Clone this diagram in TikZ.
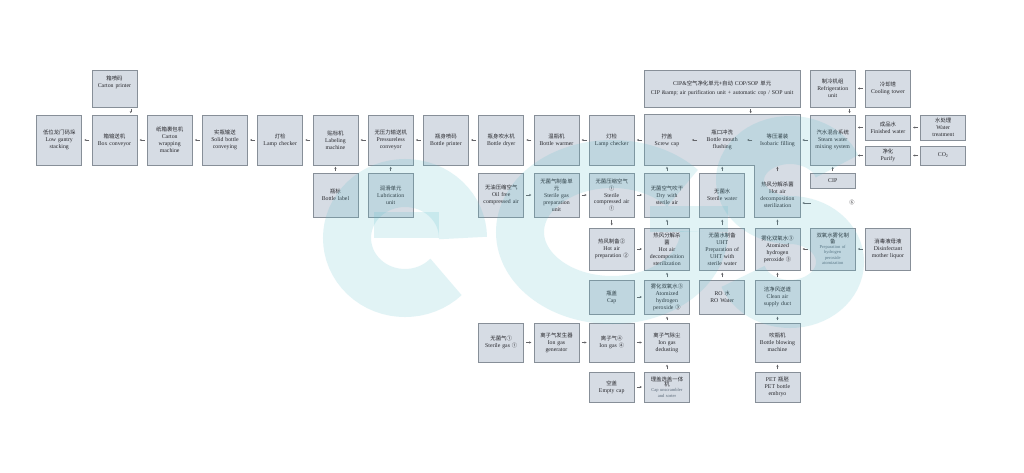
\documentclass[tikz,border=0pt]{standalone}
\usepackage{fontspec}
\setmainfont{Liberation Serif}
\newfontfamily\cjk{Noto Sans CJK SC}
\usetikzlibrary{arrows.meta}
\definecolor{boxfill}{RGB}{214,220,228}
\definecolor{boxline}{RGB}{135,143,152}
\definecolor{txt}{RGB}{40,40,45}
\definecolor{subtxt}{RGB}{90,105,120}
\definecolor{arrc}{RGB}{100,100,104}
\definecolor{wm}{RGB}{90,190,205}
\newcommand{\zh}[1]{{\cjk\fontsize{5.4}{6.9}\selectfont #1}}
\newcommand{\cnum}[1]{{\cjk\fontsize{5.2}{6.9}\selectfont #1}}
\begin{document}
\begin{tikzpicture}[x=1pt,y=-1pt,
  box/.style={draw=boxline, fill=boxfill, line width=0.65pt, minimum width=45pt,
    text width=44pt, align=center, inner sep=0pt, text=txt,
    font=\fontsize{5.8}{6.9}\selectfont},
  inbox/.style={minimum width=45pt, text width=44pt, align=center, inner sep=0pt,
    text=txt, font=\fontsize{5.8}{6.9}\selectfont},
  hA/.style={minimum height=37pt},
  hB/.style={minimum height=50pt},
  hC/.style={minimum height=44pt},
  hD/.style={minimum height=42pt},
  hE/.style={minimum height=34pt},
  hF/.style={minimum height=39pt},
  hG/.style={minimum height=30pt},
  smalltext/.style={font=\fontsize{4.5}{5.4}\selectfont},
  arr/.style={draw=arrc, line width=0.45pt, -{Stealth[length=2.1pt,width=2.1pt]},
    shorten <=2.3pt, shorten >=2.3pt},
  arrs/.style={arr, shorten <=1.5pt, shorten >=1.5pt},
  wmark/.style={draw=wm, draw opacity=0.18, line width=48pt},
  wmfill/.style={fill=wm, fill opacity=0.18}
]
\fill[white] (0,0) rectangle (1024,472);
\useasboundingbox (0,0) rectangle (1024,472);

% ---------- row 0 ----------
\node[box,hA] (cprint) at (114.45,88.5) {\zh{箱喷码}\\Carton printer\\~\\~};
\node[box,hA,minimum width=155.5pt,text width=152pt] (cipsop) at (722.2,88.5)
  {CIP\&\zh{空气净化单元+自动} COP/SOP \zh{单元}\\[1.5pt]CIP \&amp; air purification unit + automatic cop / SOP unit};
\node[box,hA] (refrig) at (832.7,88.5) {\zh{制冷机组}\\Refrigeration\\unit};
\node[box,hA] (cool) at (887.95,88.5) {\zh{冷却塔}\\Cooling tower};

% ---------- row 1 ----------
\node[box,hB] (lowg) at (59.2,140) {\zh{低位龙门码垛}\\Low gantry\\stacking};
\node[box,hB] (boxc) at (114.45,140) {\zh{箱输送机}\\Box conveyor};
\node[box,hB] (wrap) at (169.7,140) {\zh{纸箱裹包机}\\Carton\\wrapping\\machine};
\node[box,hB] (solid) at (224.95,140) {\zh{实瓶输送}\\Solid bottle\\conveying};
\node[box,hB] (lampa) at (280.2,140) {\zh{灯检}\\Lamp checker};
\node[box,hB] (labm) at (335.45,140) {\zh{贴标机}\\Labeling\\machine};
\node[box,hB] (pless) at (390.7,140) {\zh{无压力输送机}\\Pressureless\\conveyor};
\node[box,hB] (bprint) at (445.95,140) {\zh{瓶身喷码}\\Bottle printer};
\node[box,hB] (bdry) at (501.2,140) {\zh{瓶身吹水机}\\Bottle dryer};
\node[box,hB] (bwarm) at (556.45,140) {\zh{温瓶机}\\Bottle warmer};
\node[box,hB] (lampb) at (611.7,140) {\zh{灯检}\\Lamp checker};

% combined filling block (L-shaped outline)
\node[inbox,hB,minimum width=155.5pt] (bigbox) at (722.2,140) {};
\node[inbox,hC] (hotair) at (777.45,195) {};
\draw[draw=boxline, fill=boxfill, line width=0.65pt]
  (bigbox.north west) -- (bigbox.north east) -- (hotair.south east)
  -- (hotair.south west) -- (hotair.west |- bigbox.south) -- (bigbox.south west) -- cycle;
\node[inbox,hB] (screw) at (666.95,140) {\zh{拧盖}\\Screw cap};
\node[inbox,hB] (flush) at (722.2,140) {\zh{瓶口冲洗}\\Bottle mouth\\flushing};
\node[inbox,hB] (isofill) at (777.45,140) {\zh{等压灌装}\\Isobaric filling};
\node[inbox,hC] (hotairtxt) at (777.45,195) {\zh{热风分解杀菌}\\Hot air\\decomposition\\sterilization};

\node[box,hB] (steam) at (832.7,140) {\zh{汽水混合系统}\\Steam water\\mixing system};
\node[box,minimum height=25pt] (finw) at (887.95,127.5) {\zh{成品水}\\Finished water};
\node[box,minimum height=25pt] (wtreat) at (943.2,127.5) {\zh{水处理}\\Water\\treatment};
\node[box,minimum height=19pt] (purify) at (887.95,155.5) {\zh{净化}\\Purify};
\node[box,minimum height=19pt] (co2) at (943.2,155.5) {CO\textsubscript{2}};

% ---------- row 2 ----------
\node[box,hC] (blabel) at (335.45,195) {\zh{瓶标}\\Bottle label};
\node[box,hC] (lube) at (390.7,195) {\zh{润滑单元}\\Lubrication\\unit};
\node[box,hC] (oilfree) at (501.2,195) {\zh{无油压缩空气}\\Oil free\\compressed air};
\node[box,hC] (sgprep) at (556.45,195) {\zh{无菌气制备单}\\\zh{元}\\Sterile gas\\preparation\\unit};
\node[box,hC] (sca) at (611.7,195) {\zh{无菌压缩空气}\\\cnum{①}\\Sterile\\compressed air\\\cnum{①}};
\node[box,hC] (dry) at (666.95,195) {\zh{无菌空气吹干}\\Dry with\\sterile air};
\node[box,hC] (swater) at (722.2,195) {\zh{无菌水}\\Sterile water};
\node[box,minimum height=15pt] (cip) at (832.7,180.5) {CIP};
\node[text=txt,inner sep=0pt] (six) at (852,203) {\cnum{⑥}};
\coordinate (sixarrow) at (810.5,203);

% ---------- row 3 ----------
\node[box,hD] (hotprep) at (611.7,249) {\zh{热风制备②}\\Hot air\\preparation \cnum{②}};
\node[box,hD] (hads) at (666.95,249) {\zh{热风分解杀}\\\zh{菌}\\Hot air\\decomposition\\sterilization};
\node[box,hD] (uht) at (722.2,249) {\zh{无菌水制备}\\UHT\\Preparation of\\UHT with\\sterile water};
\node[box,hD] (atoma) at (777.45,249) {\zh{雾化双氧水③}\\Atomized\\hydrogen\\peroxide \cnum{③}};
\node[box,hD,smalltext] (hpprep) at (832.7,249) {\zh{双氧水雾化制}\\\zh{备}\\\textcolor{subtxt}{Preparation of}\\\textcolor{subtxt}{hydrogen}\\\textcolor{subtxt}{peroxide}\\\textcolor{subtxt}{atomization}};
\node[box,hD] (disinf) at (887.95,249) {\zh{消毒液母液}\\Disinfectant\\mother liquor};

% ---------- row 4 ----------
\node[box,hE] (cap) at (611.7,297) {\zh{瓶盖}\\Cap};
\node[box,hE] (atomb) at (666.95,297) {\zh{雾化双氧水③}\\Atomized\\hydrogen\\peroxide \cnum{③}};
\node[box,hE] (ro) at (722.2,297) {RO \zh{水}\\RO Water};
\node[box,hE] (duct) at (777.45,297) {\zh{洁净风送道}\\Clean air\\supply duct};

% ---------- row 5 ----------
\node[box,hF] (sgas) at (501.2,342.5) {\zh{无菌气①}\\Sterile gas \cnum{①}};
\node[box,hF] (iongen) at (556.45,342.5) {\zh{离子气发生器}\\Ion gas\\generator};
\node[box,hF] (iongas) at (611.7,342.5) {\zh{离子气④}\\Ion gas \cnum{④}};
\node[box,hF] (dedust) at (666.95,342.5) {\zh{离子气除尘}\\Ion gas\\dedusting};
\node[box,hF] (blow) at (777.45,342.5) {\zh{吹瓶机}\\Bottle blowing\\machine};

% ---------- row 6 ----------
\node[box,hG] (empty) at (611.7,387) {\zh{空盖}\\Empty cap};
\node[box,hG,smalltext] (unscr) at (666.95,387) {\zh{理盖选盖一体}\\\zh{机}\\\textcolor{subtxt}{Cap unscrambler}\\\textcolor{subtxt}{and sorter}};
\node[box,hG] (pet) at (777.45,387) {PET \zh{瓶胚}\\PET bottle\\embryo};

% ---------- connectors ----------
\foreach \a/\b in {boxc/lowg, wrap/boxc, solid/wrap, lampa/solid, labm/lampa,
  pless/labm, bprint/pless, bdry/bprint, bwarm/bdry, lampb/bwarm, screw/lampb,
  flush/screw, isofill/flush, steam/isofill, wtreat/finw, co2/purify, cool/refrig,
  oilfree/sgprep, sgprep/sca, sca/dry,
  hotprep/hads, hpprep/atoma, disinf/hpprep, cap/atomb,
  sgas/iongen, iongen/iongas, iongas/dedust, empty/unscr,
  sca/hotprep, hads/dry, uht/swater, atoma/hotairtxt, atomb/hads, ro/uht, duct/atoma,
  dedust/atomb, blow/duct, unscr/dedust, pet/blow}
  \draw[arr] (\a) -- (\b);
\foreach \a/\b in {blabel/labm, lube/pless, dry/screw, swater/flush, hotairtxt/isofill, cip/steam}
  \draw[arrs] (\a) -- (\b);
\draw[arr] (finw.west) -- (finw.west -| steam.east);
\draw[arr] (purify.west) -- (purify.west -| steam.east);
\draw[arrs] ([xshift=-6.5pt]cprint.south east) -- ([xshift=-6.5pt]cprint.south east |- boxc.north);
\draw[arrs] ([xshift=28.5pt]cipsop.south) -- ([xshift=28.5pt]cipsop.south |- bigbox.north);
\draw[arrs] ([xshift=-6pt]refrig.south east) -- ([xshift=-6pt]refrig.south east |- steam.north);
\draw[arr, shorten <=0pt] (sixarrow) -- (sixarrow -| hotair.east);

% ---------- watermark ----------
\draw[wmark] (405,238) ++(45:58 and 55) arc[start angle=45, end angle=360, x radius=58, y radius=55];
\fill[wmfill] (374,212) rectangle (439,238);
\draw[wmark] (612,232) ++(320:92 and 68) arc[start angle=320, end angle=0, x radius=92, y radius=68];
\fill[wmfill] (650,206) rectangle (728,232);
\draw[wmark] (790,180) ++(340:50 and 40) arc[start angle=340, end angle=90, x radius=50, y radius=40]
  arc[start angle=270, end angle=520, x radius=50, y radius=42];
\end{tikzpicture}
\end{document}
